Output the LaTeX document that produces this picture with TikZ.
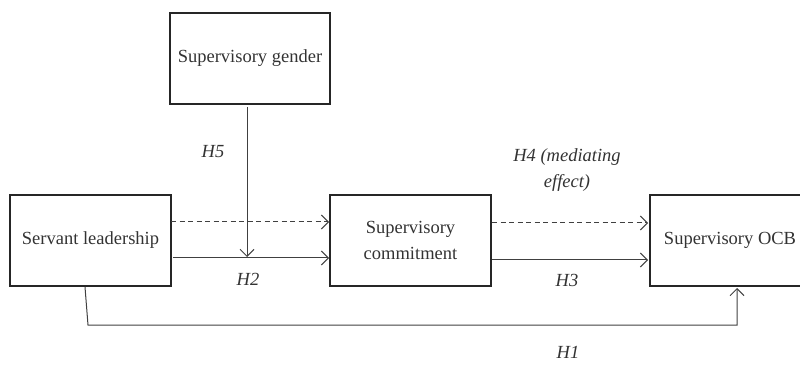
\documentclass[tikz,border=0pt]{standalone}
\usepackage{fontspec}
\setmainfont{Liberation Serif}
\usetikzlibrary{arrows.meta}
\begin{document}
\begin{tikzpicture}[x=1pt,y=-1pt,
  box/.style={draw=black!85,line width=1.7pt,rectangle,minimum width=160pt,minimum height=91pt,align=center,font=\fontsize{18.5}{26}\selectfont,text=black!80,inner sep=0pt},
  conn/.style={draw=black!75,line width=1pt,-{Straight Barb[length=7pt,width=14pt,line width=1pt]}},
  dsh/.style={dash pattern=on 5pt off 3.5pt},
  lab/.style={font=\itshape\fontsize{18.5}{26}\selectfont,text=black!80,align=center,inner sep=0pt}]
\useasboundingbox (0,0) rectangle (800,371);
\clip (0,0) rectangle (800,371);
\node[box] (gender) at (250,58.5) {Supervisory gender};
\node[box,minimum width=161pt] (sl) at (90.5,240.5) {Servant leadership};
\node[box,minimum width=161pt] (com) at (410.5,240.5) {Supervisory\\commitment};
\node[box] (ocb) at (730,240.5) {Supervisory OCB};
\coordinate (s1) at (171,222);
\coordinate (c1) at (329,222);
\coordinate (s2) at (173,258);
\coordinate (c2) at (329,258);
\coordinate (c3) at (492,223);
\coordinate (o3) at (648,223);
\coordinate (c4) at (492,260);
\coordinate (o4) at (648,260);
\coordinate (g1) at (247,107);
\coordinate (g2) at (247,257);
\coordinate (h1a) at (85,287);
\coordinate (h1b) at (88,325);
\coordinate (h1c) at (737,325);
\coordinate (h1d) at (737,288);
\draw[conn,dsh] (s1) -- (c1);
\draw[conn] (s2) -- (c2);
\draw[conn,dsh] (c3) -- (o3);
\draw[conn] (c4) -- (o4);
\draw[conn] (g1) -- (g2);
\draw[conn] (h1a) -- (h1b) -- (h1c) -- (h1d);
\node[lab] (h5) at (213,152) {H5};
\node[lab] (h2) at (248,279) {H2};
\node[lab] (h3) at (567,280) {H3};
\node[lab] (h4) at (567,170) {H4 (mediating\\effect)};
\node[lab] (h1) at (568,352) {H1};
\end{tikzpicture}
\end{document}
